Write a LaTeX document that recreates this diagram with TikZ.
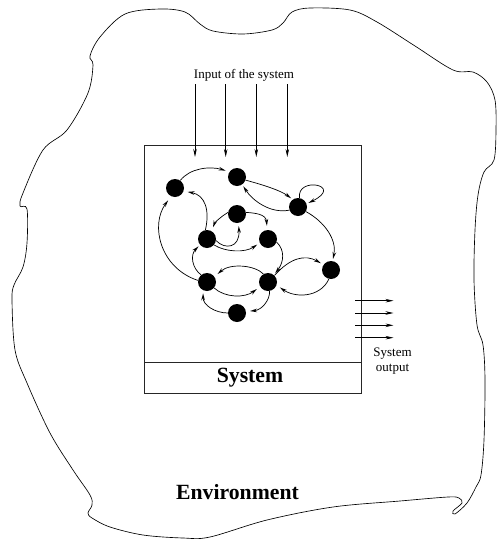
\documentclass[tikz,border=0pt]{standalone}
\usepackage{fontspec}
\setmainfont{Liberation Serif}
\usetikzlibrary{arrows.meta,calc}
\begin{document}
\begin{tikzpicture}[x=1pt,y=-1pt,
  dot/.style={circle,fill=black,minimum size=18pt,inner sep=0pt},
  link/.style={line width=0.7pt,-{Stealth[open,length=7pt,width=3.6pt]},shorten >=2pt},
  feed/.style={line width=0.7pt,-{Stealth[length=8pt,width=3.5pt]}},
  frame/.style={line width=1pt,draw=black!85},
  small/.style={font=\fontsize{13}{15}\selectfont,inner sep=0pt},
  big/.style={font=\fontsize{21.7}{24}\selectfont\bfseries,inner sep=0pt}]
\useasboundingbox (0,0) rectangle (496,541);

% environment outline
\draw[line width=0.65pt] plot[smooth cycle, tension=0.55] coordinates {
  (125,14) (160,9) (185,12) (200,24) (213,31) (243,34) (272,30) (283,23)
  (292,12) (310,8) (350,10) (377,22) (415,46) (453,70) (473,72) (487,82)
  (495,100) (496,130) (494,160) (484,172) (478,195) (475,230) (474,280)
  (477,325) (483,345) (485,380) (484,440) (481,475) (476,487) (467,503)
  (455,514) (453,511) (462,503) (459,498) (448,497) (400,501) (333,507)
  (267,520) (210,537) (183,538) (143,535) (110,527) (92,518) (88,513)
  (92,505) (90,495) (73,470) (50,433) (27,383) (15,350) (12,300) (14,285)
  (23,267) (27,243) (27,209) (20,206) (23,193) (43,150) (67,130) (88,93)
  (93,65) (90,56) (100,37)};

% system box
\draw[frame] (144.5,145.7) rectangle (361.5,393.7);
\draw[frame] (144.5,362.3) -- (361.5,362.3);
\node[big,anchor=base] (sys) at (250,382) {System};
\node[big,anchor=base] (env) at (237.5,499) {Environment};

% inputs
\node[small,anchor=base] (inlab) at (244,78.5) {Input of the system};
\foreach \x [count=\i] in {195,225.7,256.3,287.3}{
  \coordinate (ins\i) at (\x,84);
  \coordinate (ine\i) at (\x,157);
  \draw[feed] (ins\i) -- (ine\i);
}

% outputs
\foreach \y [count=\i] in {300.7,313,325.3,337.7}{
  \coordinate (outs\i) at (355,\y);
  \coordinate (oute\i) at (393.5,\y);
  \draw[feed] (outs\i) -- (oute\i);
}
\node[small,anchor=north,align=center] (outlab) at (392.5,347.5) {System\\output};

% network nodes
\node[dot] (A) at (175,188) {};
\node[dot] (B) at (237,177) {};
\node[dot] (C) at (298,207) {};
\node[dot] (D) at (237,214) {};
\node[dot] (E) at (207,239) {};
\node[dot] (F) at (268,239) {};
\node[dot] (G) at (331,270) {};
\node[dot] (H) at (207,282) {};
\node[dot] (I) at (268,282) {};
\node[dot] (J) at (237,313) {};

% network links
\draw[link,shorten >=4pt] (A.55) .. controls (190,168) and (210,166) .. (B.145);
\draw[link] (B.-20) .. controls (260,184) and (280,190) .. (C.125);
\draw[link] (C.200) .. controls (270,214) and (252,200) .. (B.-55);
\draw[link] (C.80) .. controls (296,176) and (345,185) .. (C.20);
\draw[link] (C.-30) .. controls (325,222) and (337,240) .. (G.80);
\draw[link,shorten >=3pt] (I.45) .. controls (290,258) and (305,254) .. (G.145);
\draw[link,shorten >=4pt] (G.-103) .. controls (320,298) and (295,298) .. (I.-20);
\draw[link,shorten >=4pt] (I.120) .. controls (255,265) and (230,263) .. (H.35);
\draw[link,shorten >=4pt] (H.-40) .. controls (225,298) and (245,298) .. (I.-150);
\draw[link] (H.130) .. controls (192,268) and (190,255) .. (E.-140);
\draw[link] (F.-20) .. controls (285,250) and (284,262) .. (I.50);
\draw[link,shorten >=3pt] (J.180) .. controls (215,313) and (203,305) .. (H.-115);
\draw[link,shorten >=4pt] (I.-80) .. controls (270,300) and (262,310) .. (J.10);
\draw[link,shorten >=3pt] (E.-40) .. controls (225,252) and (245,253) .. (F.-155);
\draw[link,shorten >=4pt] (D.10) .. controls (255,213) and (266,214) .. (F.95);
\draw[link,shorten >=4pt] (D.170) .. controls (222,216) and (215,222) .. (E.60);
\draw[link,shorten >=3pt] (E.-10) .. controls (225,250) and (240,248) .. (D.-80);
\draw[link,shorten >=4pt] (E.100) .. controls (210,210) and (205,195) .. (A.-20);
\draw[link,shorten >=5pt] (H.170) .. controls (160,268) and (150,225) .. (A.-115);
\end{tikzpicture}
\end{document}
